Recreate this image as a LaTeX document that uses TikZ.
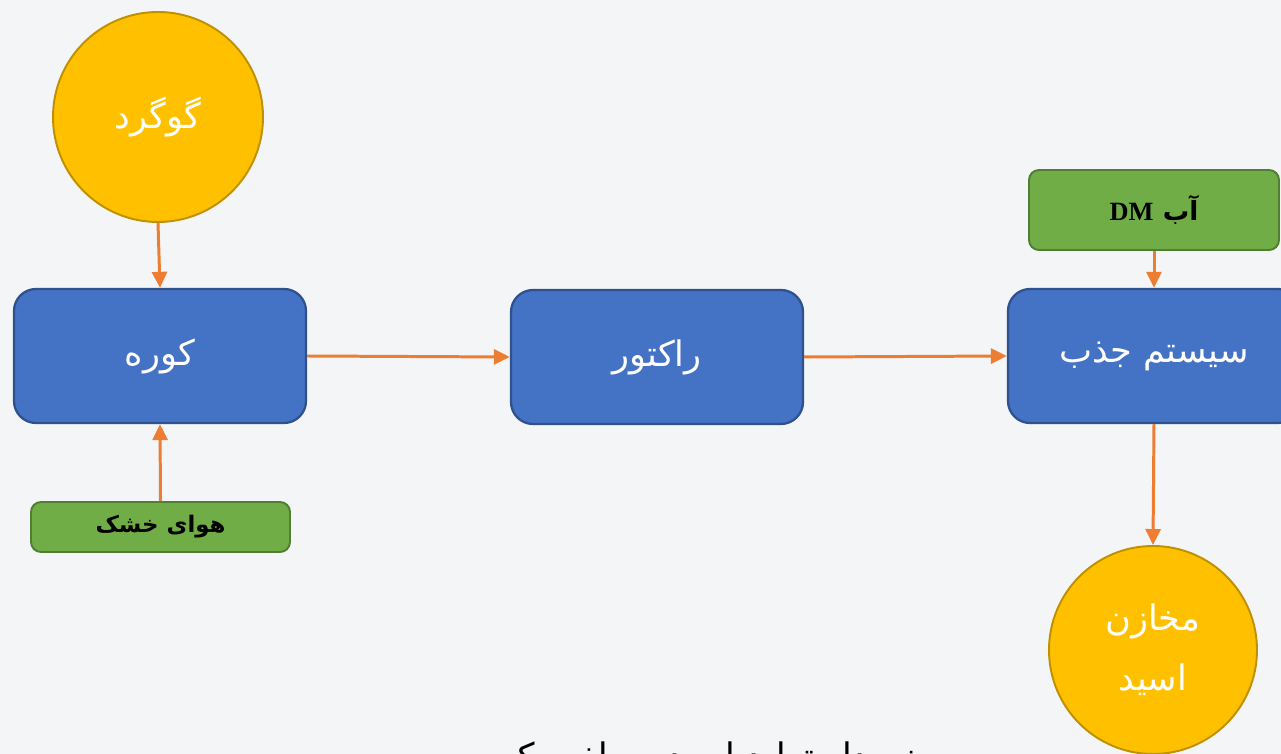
\documentclass[tikz,border=0pt]{standalone}
\usepackage{fontspec}
\usepackage{xcolor}
\usepackage{tikz}
\usetikzlibrary{positioning,arrows.meta}

\TeXXeTstate=1
\newfontfamily\arabicfont[Script=Arabic]{DejaVu Sans}
\newfontfamily\latinserif{Liberation Serif}

\definecolor{pagebg}{HTML}{F3F5F7}
\definecolor{procblue}{HTML}{4472C4}
\definecolor{procedge}{HTML}{2F528F}
\definecolor{tankgold}{HTML}{FFC000}
\definecolor{tankedge}{HTML}{BF9000}
\definecolor{feedgreen}{HTML}{70AD47}
\definecolor{feededge}{HTML}{507E32}
\definecolor{flow}{HTML}{ED7D31}

\begin{document}
\begin{tikzpicture}[procnode/.style={rectangle, rounded corners=0.44cm, draw=procedge, fill=procblue, line width=1.3pt, minimum width=5.84cm, minimum height=2.68cm, text=white, font=\arabicfont\fontsize{20}{24}\selectfont},
tanknode/.style={circle, draw=tankedge, fill=tankgold, line width=1.1pt, inner sep=0pt, minimum size=4.2cm, text=white, align=center, font=\arabicfont\fontsize{20}{34}\selectfont},
feednode/.style={rectangle, rounded corners=0.2cm, draw=feededge, fill=feedgreen, line width=1.1pt, font=\arabicfont\bfseries\fontsize{13}{16}\selectfont},
flowline/.style={draw=flow, line width=1.7pt, -{Triangle[length=3.2mm, width=3mm]}}]

\useasboundingbox (0,0) rectangle (25.62,-15.08);
\clip (0,0) rectangle (25.62,-15.08);
\fill[pagebg] (0,0) rectangle (25.62,-15.08);

% raw materials and product
\node[tanknode] (sulfur) at (3.16, -2.34) {\beginR گوگرد\endR};
\node[tanknode, minimum size=4.16cm] (acidtank) at (23.06, -13.0) {\beginR مخازن\endR\\\beginR اسید\endR};

% process units
\node[procnode] (furnace) at (3.2, -7.12) {\beginR کوره\endR};
\node[procnode] (reactor) at (13.14, -7.14) {\beginR راکتور\endR};
\node[procnode] (absorber) at (23.08, -7.12) {\beginR سیستم جذب\endR};

% feeds
\node[feednode, minimum width=5.0cm, minimum height=1.6cm, font=\arabicfont\bfseries\fontsize{15}{18}\selectfont] (dmwater) at (23.08, -4.2) {\beginR آب \beginL{\latinserif\bfseries DM}\endL\endR};
\node[feednode, minimum width=5.18cm, minimum height=1.0cm] (dryair) at (3.21, -10.54) {\beginR هوای خشک\endR};

% caption
\node[anchor=north, inner sep=0pt, font=\arabicfont\fontsize{20}{24}\selectfont] (caption) at (14.2, -14.82) {\beginR نمودار تولید اسید سولفوریک\endR};

\draw[flowline] (sulfur.south) -- (furnace.north);
\draw[flowline] (dryair.north) -- (furnace.south);
\draw[flowline] (furnace.east) -- (reactor.west);
\draw[flowline] (reactor.east) -- (absorber.west);
\draw[flowline] (dmwater.south) -- (absorber.north);
\draw[flowline] (absorber.south) -- (acidtank.north);

\end{tikzpicture}
\end{document}
